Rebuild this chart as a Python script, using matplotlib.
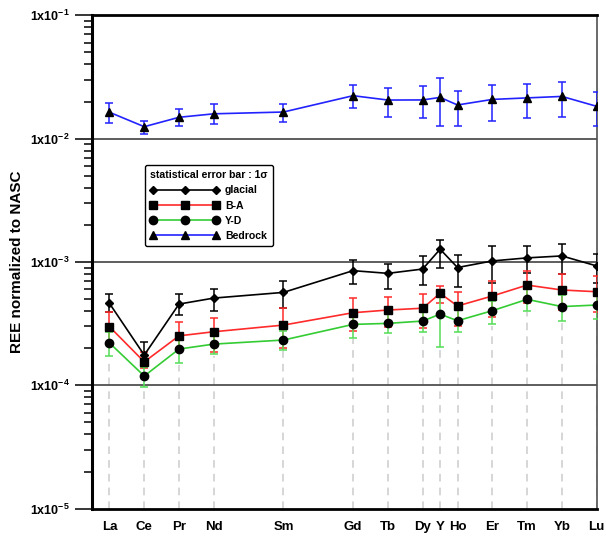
import matplotlib
matplotlib.use('Agg')
import matplotlib.pyplot as plt
from matplotlib.lines import Line2D
from matplotlib.ticker import LogLocator, FuncFormatter, NullFormatter
import numpy as np

plt.rcParams['font.family'] = ['Liberation Sans', 'DejaVu Sans']
plt.rcParams['font.weight'] = 'bold'
plt.rcParams['mathtext.fontset'] = 'custom'
plt.rcParams['mathtext.rm'] = 'Liberation Sans:bold'
plt.rcParams['mathtext.bf'] = 'Liberation Sans:bold'
plt.rcParams['mathtext.it'] = 'Liberation Sans:bold'

# element labels and their x position (atomic number, Y put between Dy and Ho)
elements = ['La', 'Ce', 'Pr', 'Nd', 'Sm', 'Gd', 'Tb', 'Dy', 'Y', 'Ho', 'Er', 'Tm', 'Yb', 'Lu']
xpos = [57, 58, 59, 60, 62, 64, 65, 66, 66.5, 67, 68, 69, 70, 71]

# glacial
glacial = [4.62e-4, 1.76e-4, 4.56e-4, 5.1e-4, 5.67e-4, 8.51e-4, 8.09e-4, 8.77e-4, 1.27e-3, 9.02e-4, 1.02e-3, 1.08e-3, 1.12e-3, 9.29e-4]
glacial_hi = [5.5e-4, 2.26e-4, 5.5e-4, 6.04e-4, 7.05e-4, 1.04e-3, 9.63e-4, 1.12e-3, 1.51e-3, 1.14e-3, 1.35e-3, 1.35e-3, 1.41e-3, 1.17e-3]
glacial_lo = [3.95e-4, 1.4e-4, 3.72e-4, 4.03e-4, 4.22e-4, 6.59e-4, 6.08e-4, 6.47e-4, 8.86e-4, 6.23e-4, 6.7e-4, 8.09e-4, 8.0e-4, 6.7e-4]

# B-A
ba = [2.99e-4, 1.55e-4, 2.52e-4, 2.72e-4, 3.08e-4, 3.88e-4, 4.08e-4, 4.22e-4, 5.57e-4, 4.4e-4, 5.3e-4, 6.5e-4, 5.93e-4, 5.74e-4]
ba_hi = [3.93e-4, 1.87e-4, 3.28e-4, 3.53e-4, 4.22e-4, 5.08e-4, 5.18e-4, 5.5e-4, 6.39e-4, 5.74e-4, 7.05e-4, 8.45e-4, 8.0e-4, 7.7e-4]
ba_lo = [2.2e-4, 1.38e-4, 2.0e-4, 1.87e-4, 2.0e-4, 2.77e-4, 2.95e-4, 2.93e-4, 4.62e-4, 3.03e-4, 3.56e-4, 4.62e-4, 4.08e-4, 3.95e-4]

# Y-D
yd = [2.21e-4, 1.19e-4, 1.97e-4, 2.16e-4, 2.33e-4, 3.12e-4, 3.18e-4, 3.32e-4, 3.78e-4, 3.34e-4, 4.03e-4, 4.98e-4, 4.35e-4, 4.48e-4]
yd_hi = [2.72e-4, 1.42e-4, 2.4e-4, 2.56e-4, 2.77e-4, 3.88e-4, 3.95e-4, 4.08e-4, 5.74e-4, 4.15e-4, 4.87e-4, 6.23e-4, 5.4e-4, 5.74e-4]
yd_lo = [1.73e-4, 9.75e-5, 1.52e-4, 1.79e-4, 1.94e-4, 2.43e-4, 2.64e-4, 2.72e-4, 2.03e-4, 2.72e-4, 3.14e-4, 4.03e-4, 3.32e-4, 3.42e-4]

# Bedrock
bedrock = [0.01637, 0.0125, 0.0149, 0.0159, 0.01644, 0.0223, 0.02056, 0.0206, 0.0216, 0.01875, 0.0208, 0.0214, 0.0220, 0.01828]
bedrock_hi = [0.0195, 0.01396, 0.0173, 0.0191, 0.0191, 0.0272, 0.0259, 0.0265, 0.0310, 0.0245, 0.0272, 0.0279, 0.0286, 0.0240]
bedrock_lo = [0.0134, 0.0109, 0.01268, 0.01306, 0.01365, 0.0176, 0.01507, 0.0147, 0.0127, 0.0127, 0.01396, 0.0147, 0.01507, 0.0127]

series = [
    ('glacial', glacial, glacial_lo, glacial_hi, 'black', 'black', 'D', 4.3),
    ('B-A', ba, ba_lo, ba_hi, '#ff2a2a', '#ff2a2a', 's', 5.5),
    ('Y-D', yd, yd_lo, yd_hi, '#33cc33', '#55dd55', 'o', 6),
    ('Bedrock', bedrock, bedrock_lo, bedrock_hi, '#2222ff', '#2222ff', '^', 5.5),
]

fig = plt.figure(figsize=(6.06, 5.37), dpi=100)
ax = fig.add_axes([0.1513, 0.0527, 0.8334, 0.9188])

# gray dashed drop lines
ax.vlines(xpos, 1e-5, np.array(yd_lo) * 0.97, colors='#cccccc', linestyles=(0, (5, 4)), lw=1.1, zorder=1)

handles = []
for name, v, lo, hi, col, ecol, mk, ms in series:
    v = np.array(v)
    yerr = [v - np.array(lo), np.array(hi) - v]
    ax.errorbar(xpos, v, yerr=yerr, color=col, ecolor=ecol, elinewidth=1.1, capsize=3, capthick=1.1,
                lw=1.2, marker=mk, ms=ms, mfc='black', mec='black', zorder=3)
    handles.append(Line2D([], [], color=col, lw=1.2, marker=mk, ms=ms, mfc='black', mec='black', label=name))

ax.set_yscale('log')
ax.set_ylim(1e-5, 1e-1)
ax.set_xlim(56.49, 71)

ax.yaxis.set_major_locator(LogLocator(base=10, numticks=10))
ax.yaxis.set_minor_locator(LogLocator(base=10, subs=np.arange(2, 10), numticks=20))
ax.yaxis.set_minor_formatter(NullFormatter())
ax.yaxis.set_major_formatter(FuncFormatter(lambda y, p: r'$\mathbf{1x10^{%d}}$' % round(np.log10(y))))
ax.tick_params(axis='y', which='major', length=12, width=1.1, pad=4, labelsize=9)
ax.tick_params(axis='y', which='minor', length=6, width=1.1)

ax.set_xticks(xpos)
ax.set_xticklabels(elements, fontweight='bold', fontsize=9.5)
ax.tick_params(axis='x', length=0, pad=9)

for d in [1e-2, 1e-3, 1e-4]:
    ax.axhline(d, color='#505050', lw=1.3, zorder=2)

ax.spines['left'].set_linewidth(2.2)
ax.spines['top'].set_linewidth(2.0)
ax.spines['bottom'].set_linewidth(2.0)
ax.spines['right'].set_linewidth(1.2)
ax.spines['right'].set_color('#505050')

ax.set_ylabel('REE normalized to NASC', fontsize=11, fontweight='bold', labelpad=4)

leg = ax.legend(handles=handles, loc='upper left', bbox_to_anchor=(0.105, 0.697), numpoints=3,
                handlelength=6.6, fontsize=7.6, title='statistical error bar : 1σ', title_fontsize=7.6,
                alignment='left', borderaxespad=0, fancybox=True, edgecolor='black',
                framealpha=1, labelspacing=0.5, handletextpad=0.5, borderpad=0.5)
leg.get_frame().set_linewidth(1.0)
leg.get_title().set_fontweight('bold')

fig.savefig('out.png', dpi=100)
